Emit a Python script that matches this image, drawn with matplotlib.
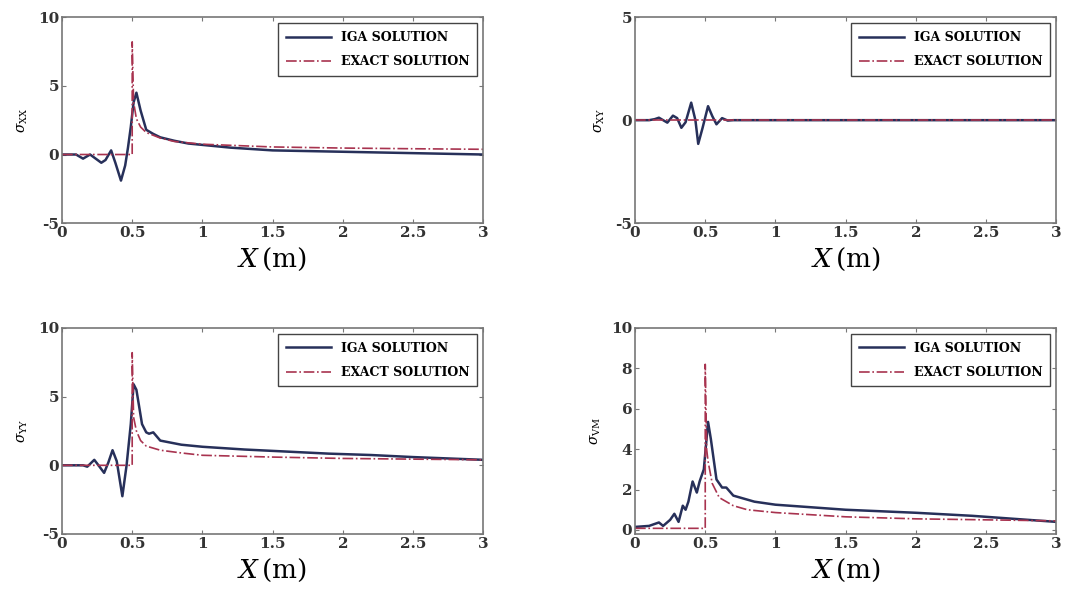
import matplotlib.pyplot as plt
import numpy as np

plt.rcParams['font.family'] = ['DejaVu Serif']
plt.rcParams['mathtext.fontset'] = 'dejavuserif'

# sigma_xx
xx_x_iga = [0, 0.1, 0.15, 0.2, 0.24, 0.28, 0.31, 0.35, 0.38, 0.42, 0.45, 0.47, 0.49, 0.51, 0.53,
            0.56, 0.6, 0.65, 0.7, 0.8, 0.9, 1.0, 1.2, 1.5, 2.0, 2.5, 3.0]
xx_y_iga = [0, 0, -0.3, 0.0, -0.3, -0.6, -0.4, 0.3, -0.6, -1.9, -0.8, 0.5, 2.0, 3.8, 4.5,
            3.2, 1.8, 1.5, 1.25, 1.0, 0.8, 0.7, 0.5, 0.3, 0.2, 0.1, 0.0]
xx_x_ex = [0, 0.5, 0.5, 0.51, 0.53, 0.56, 0.6, 0.7, 0.8, 1.0, 1.5, 2.0, 2.5, 3.0]
xx_y_ex = [0, 0, 8.2, 3.8, 2.6, 2.0, 1.6, 1.2, 0.95, 0.75, 0.55, 0.47, 0.42, 0.38]

# sigma_xy
xy_x_iga = [0, 0.1, 0.14, 0.17, 0.2, 0.23, 0.27, 0.3, 0.33, 0.36, 0.4, 0.43, 0.45, 0.48, 0.52,
            0.55, 0.58, 0.62, 0.66, 0.7, 3.0]
xy_y_iga = [0, 0, 0.05, 0.12, 0.0, -0.12, 0.22, 0.1, -0.37, -0.1, 0.85, 0.0, -1.15, -0.4, 0.68,
            0.2, -0.2, 0.1, -0.02, 0, 0]
xy_x_ex = [0, 3.0]
xy_y_ex = [0, 0]

# sigma_yy
yy_x_iga = [0, 0.15, 0.18, 0.23, 0.26, 0.3, 0.33, 0.36, 0.39, 0.43, 0.46, 0.49, 0.51, 0.53,
            0.57, 0.6, 0.62, 0.65, 0.7, 0.85, 1.0, 1.3, 1.5, 1.9, 2.2, 2.5, 3.0]
yy_y_iga = [0, 0, -0.1, 0.4, 0.0, -0.55, 0.2, 1.1, 0.3, -2.25, 0.0, 3.0, 5.9, 5.5,
            3.0, 2.4, 2.3, 2.4, 1.8, 1.5, 1.35, 1.15, 1.05, 0.85, 0.75, 0.6, 0.4]
yy_x_ex = [0, 0.5, 0.5, 0.51, 0.53, 0.56, 0.6, 0.7, 0.85, 1.0, 1.5, 2.0, 2.5, 3.0]
yy_y_ex = [0, 0, 8.2, 3.5, 2.5, 1.8, 1.4, 1.1, 0.9, 0.73, 0.6, 0.5, 0.45, 0.4]

# sigma_vm
vm_x_iga = [0, 0.1, 0.17, 0.2, 0.25, 0.28, 0.31, 0.34, 0.36, 0.38, 0.41, 0.44, 0.46, 0.49,
            0.52, 0.54, 0.58, 0.62, 0.65, 0.7, 0.75, 0.85, 1.0, 1.3, 1.5, 2.0, 2.4, 2.7, 3.0]
vm_y_iga = [0.15, 0.2, 0.37, 0.2, 0.5, 0.8, 0.4, 1.2, 1.0, 1.4, 2.4, 1.85, 2.4, 3.0,
            5.35, 4.5, 2.5, 2.1, 2.1, 1.7, 1.6, 1.4, 1.25, 1.1, 1.0, 0.85, 0.7, 0.55, 0.4]
vm_x_ex = [0, 0.5, 0.5, 0.51, 0.52, 0.55, 0.6, 0.7, 0.8, 1.0, 1.5, 2.0, 2.5, 3.0]
vm_y_ex = [0.08, 0.08, 8.2, 4.0, 3.4, 2.3, 1.6, 1.2, 1.0, 0.86, 0.65, 0.55, 0.5, 0.45]

panels = [
    (xx_x_iga, xx_y_iga, xx_x_ex, xx_y_ex, r'$\sigma_{\mathrm{XX}}$', (-5, 10), [-5, 0, 5, 10]),
    (xy_x_iga, xy_y_iga, xy_x_ex, xy_y_ex, r'$\sigma_{\mathrm{XY}}$', (-5, 5), [-5, 0, 5]),
    (yy_x_iga, yy_y_iga, yy_x_ex, yy_y_ex, r'$\sigma_{\mathrm{YY}}$', (-5, 10), [-5, 0, 5, 10]),
    (vm_x_iga, vm_y_iga, vm_x_ex, vm_y_ex, r'$\sigma_{\mathrm{VM}}$', (-0.2, 10), [0, 2, 4, 6, 8, 10]),
]

positions = [
    [0.0574, 0.623, 0.39, 0.348],
    [0.588, 0.623, 0.39, 0.348],
    [0.0574, 0.098, 0.39, 0.348],
    [0.588, 0.098, 0.39, 0.348],
]

iga_color = '#27305a'
ex_color = '#a8334f'

fig = plt.figure(figsize=(10.8, 5.92), dpi=100)
for p, pos in zip(panels, positions):
    xi, yi, xe, ye, lab, ylim, yt = p
    ax = fig.add_axes(pos)
    ax.plot(xi, yi, '-', color=iga_color, lw=1.8, label='IGA SOLUTION')
    ax.plot(xe, ye, '-.', color=ex_color, lw=1.2, label='EXACT SOLUTION')
    ax.set_xlim(0, 3)
    ax.set_ylim(*ylim)
    ax.set_xticks([0, 0.5, 1, 1.5, 2, 2.5, 3])
    ax.set_xticklabels(['0', '0.5', '1', '1.5', '2', '2.5', '3'])
    ax.set_yticks(yt)
    ax.set_yticklabels([str(v) for v in yt])
    ax.tick_params(direction='in', top=True, right=True, length=3, labelsize=11,
                   color='#777777', pad=2)
    for t in ax.get_xticklabels() + ax.get_yticklabels():
        t.set_fontweight('bold')
        t.set_color('#333333')
    for s in ax.spines.values():
        s.set_color('#777777')
        s.set_linewidth(1.2)
    ax.set_xlabel(r'$X\,$(m)', fontsize=19, labelpad=4)
    ax.set_ylabel(lab, fontsize=10, labelpad=6)
    leg = ax.legend(loc='upper right', prop={'weight': 'bold', 'size': 9},
                    fancybox=False, edgecolor='#444444', framealpha=1,
                    handlelength=3.6, labelspacing=0.9, borderpad=0.6,
                    borderaxespad=0.5)
    leg.get_frame().set_linewidth(1.0)

fig.savefig('out.png', dpi=100)
